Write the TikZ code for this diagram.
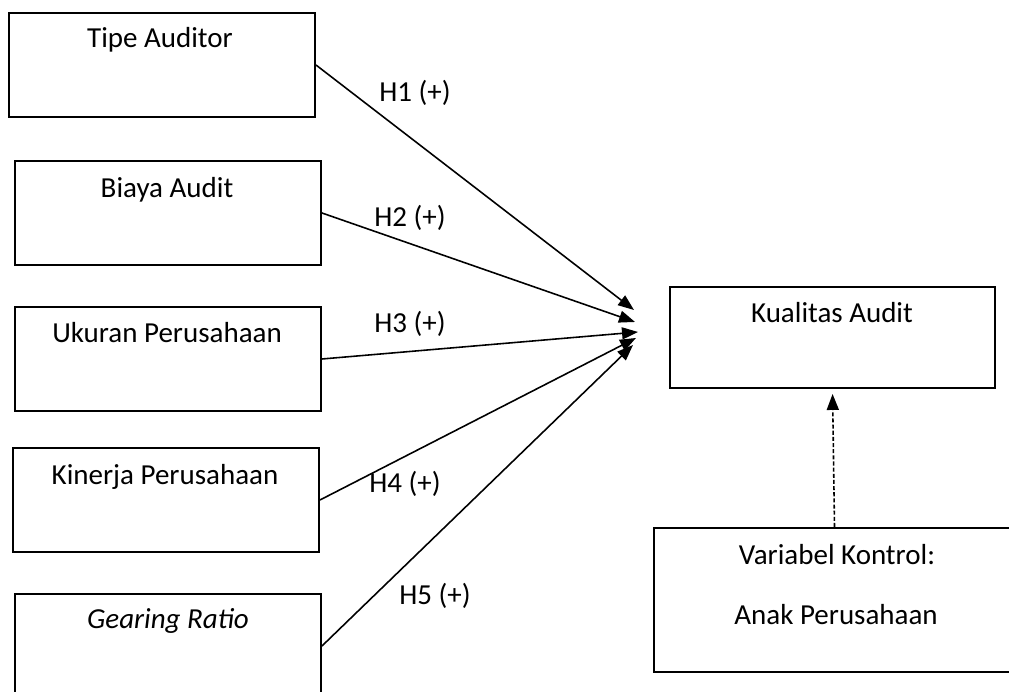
\documentclass[tikz,border=0pt]{standalone}
\usepackage{fontspec}
\setmainfont{Carlito}
\usepackage{tikz}
\usetikzlibrary{arrows.meta}

\begin{document}
\begin{tikzpicture}[font=\fontsize{16.5}{20}\selectfont]

  \tikzstyle{varbox}=[draw, line width=1.1pt, minimum width=6.12cm, minimum height=2.08cm, inner sep=0pt]
  \tikzstyle{depbox}=[draw, line width=1.1pt, minimum width=6.5cm, minimum height=2.02cm, inner sep=0pt]
  \tikzstyle{controlbox}=[draw, line width=1.1pt, minimum width=7.22cm, minimum height=2.88cm, inner sep=0pt]
  \tikzstyle{boxtitle}=[anchor=base, inner sep=0pt]
  \tikzstyle{hyp}=[anchor=base, inner sep=0pt]
  \tikzstyle{effect}=[line width=0.9pt, -{Triangle[length=0.32cm,width=0.24cm]}]

  \useasboundingbox (0,0) rectangle (20.18,13.84);

  \path
  (3.24,12.54) node[varbox](tipe){}
  (3.36, 9.58) node[varbox](biaya){}
  (3.36, 6.66) node[varbox](ukuran){}
  (3.32, 3.84) node[varbox](kinerja){}
  (3.36, 0.92) node[varbox](gearing){};

  \path
  (3.20,12.88) node[boxtitle](tipetxt){Tipe Auditor}
  (3.34, 9.88) node[boxtitle](biayatxt){Biaya Audit}
  (3.34, 6.98) node[boxtitle](ukurantxt){Ukuran Perusahaan}
  (3.30, 4.14) node[boxtitle](kinerjatxt){Kinerja Perusahaan}
  (3.36, 1.26) node[boxtitle](gearingtxt){\itshape Gearing Ratio};

  \path
  (16.65,7.09) node[depbox](kualitas){}
  (16.64,7.38) node[boxtitle](kualitastxt){Kualitas Audit};

  \path
  (16.69,1.84) node[controlbox](kontrol){}
  (16.74,2.54) node[boxtitle](kontroltxt){Variabel Kontrol:}
  (16.72,1.34) node[boxtitle](anaktxt){Anak Perusahaan};

  \path
  (12.68,7.64) coordinate(t1)
  (12.70,7.40) coordinate(t2)
  (12.76,7.20) coordinate(t3)
  (12.72,7.08) coordinate(t4)
  (12.66,6.94) coordinate(t5);

  \path
  (8.30,11.80) node[hyp](h1){H1 (+)}
  (8.20, 9.30) node[hyp](h2){H2 (+)}
  (8.20, 7.18) node[hyp](h3){H3 (+)}
  (8.10, 3.98) node[hyp](h4){H4 (+)}
  (8.70, 1.74) node[hyp](h5){H5 (+)};

  \draw[effect] (tipe.east)--(t1);
  \draw[effect] (biaya.east)--(t2);
  \draw[effect] (ukuran.east)--(t3);
  \draw[effect] (kinerja.east)--(t4);
  \draw[effect] (gearing.east)--(t5);

  \draw[effect, dash pattern=on 2.3pt off 1.2pt, shorten >=0.1cm] (kontrol.north)--(kualitas.south);

\end{tikzpicture}
\end{document}
